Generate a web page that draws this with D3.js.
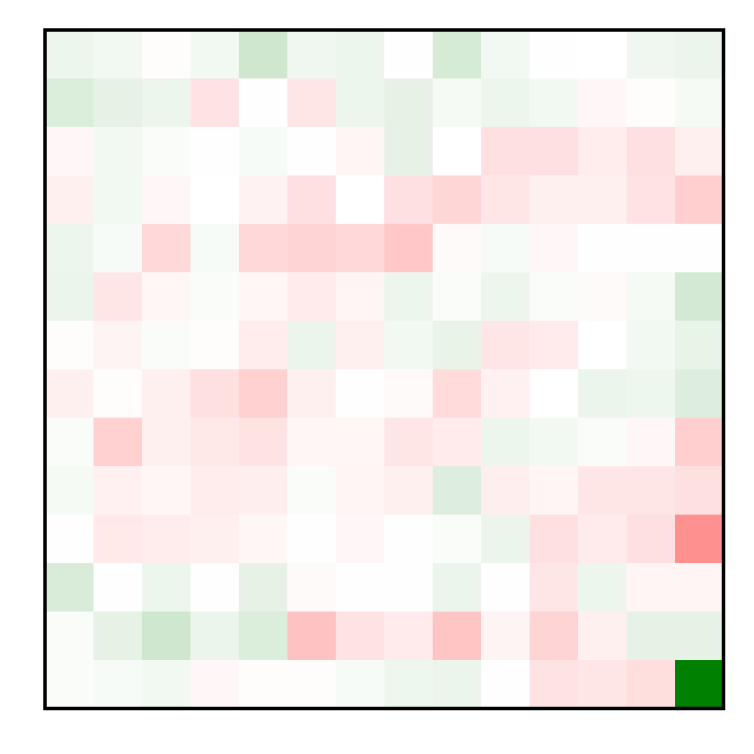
<!DOCTYPE html>
<html>
<head>
<meta charset="utf-8">
<script src="https://cdn.jsdelivr.net/npm/d3@7"></script>
<style>
  body { margin: 0; background: #fff; }
  svg { display: block; }
</style>
</head>
<body>
<svg id="chart" width="754" height="754"></svg>
<script>
// row / column indices, top row first
var rowIds = d3.range(14),
	colIds = d3.range(14);

// cell values, one array per row (negative = red, positive = green)
var values = [
	[ 0.07,  0.05, -0.01,  0.05,  0.19,  0.06,  0.07,  0.005, 0.16,  0.05,  0.005, 0.00,  0.06,  0.08],
	[ 0.14,  0.10,  0.07, -0.11,  0.005, -0.10, 0.07,  0.10,  0.04,  0.07,  0.05, -0.03, -0.01,  0.04],
	[-0.03,  0.05,  0.02,  0.005, 0.03,  0.005, -0.04, 0.10,  0.00, -0.12, -0.12, -0.07, -0.12, -0.06],
	[-0.06,  0.05, -0.03,  0.00, -0.05, -0.12,  0.00, -0.12, -0.16, -0.10, -0.06, -0.06, -0.11, -0.19],
	[ 0.07,  0.03, -0.15,  0.03, -0.15, -0.17, -0.15, -0.22, -0.02,  0.03, -0.03, -0.005, -0.005, 0.005],
	[ 0.08, -0.10, -0.035, 0.02, -0.035, -0.08, -0.04, 0.07,  0.02,  0.07,  0.02, -0.02,  0.04,  0.17],
	[-0.01, -0.045, 0.02, -0.01, -0.07,  0.08, -0.06,  0.05,  0.09, -0.10, -0.08,  0.00,  0.05,  0.09],
	[-0.06, -0.01, -0.06, -0.12, -0.18, -0.06,  0.005, -0.02, -0.14, -0.055, 0.00, 0.08,  0.065, 0.13],
	[ 0.02, -0.18, -0.06, -0.09, -0.11, -0.035, -0.035, -0.10, -0.08, 0.07,  0.05,  0.02, -0.03, -0.19],
	[ 0.04, -0.055, -0.035, -0.07, -0.065, 0.02, -0.04, -0.06,  0.13, -0.065, -0.04, -0.10, -0.10, -0.12],
	[ 0.005, -0.085, -0.07, -0.06, -0.035, 0.005, -0.03, 0.005, 0.02, 0.08, -0.12, -0.08, -0.12, -0.435],
	[ 0.15,  0.005, 0.07,  0.005, 0.10, -0.02,  0.005, 0.005, 0.08,  0.005, -0.10, 0.07, -0.04, -0.04],
	[ 0.02,  0.10,  0.19,  0.08,  0.14, -0.24, -0.11, -0.08, -0.23, -0.045, -0.17, -0.06,  0.10,  0.10],
	[ 0.02,  0.03,  0.05, -0.03, -0.01, -0.01,  0.03,  0.065, 0.075, 0.005, -0.11, -0.10, -0.13,  1.00]
];

var svg = d3.select("#chart");

var x = d3.scaleBand()
		.domain(colIds)
		.range([45, 723.5]);

var y = d3.scaleBand()
		.domain(rowIds)
		.range([30, 708.5]);

// red -> white -> green, linear in rgb
var color = d3.scaleLinear()
		.domain([-1, 0, 1])
		.range(["#ff0000", "#ffffff", "#008000"])
		.interpolate(d3.interpolateRgb);

var cells = [];
values.forEach(function(row, i) {
	row.forEach(function(v, j) {
		cells.push({ r: rowIds[i], c: colIds[j], v: v });
	});
});

svg.append("g")
	.selectAll("rect")
	.data(cells)
	.enter()
	.append("rect")
	.attr("x", function(d) { return x(d.c); })
	.attr("y", function(d) { return y(d.r); })
	.attr("width", x.bandwidth() + 0.5)
	.attr("height", y.bandwidth() + 0.5)
	.attr("fill", function(d) { return color(d.v); });

// frame
svg.append("rect")
	.attr("x", x.range()[0])
	.attr("y", y.range()[0])
	.attr("width", x.range()[1] - x.range()[0])
	.attr("height", y.range()[1] - y.range()[0])
	.attr("fill", "none")
	.attr("stroke", "#000")
	.attr("stroke-width", 3.5);
</script>
</body>
</html>
